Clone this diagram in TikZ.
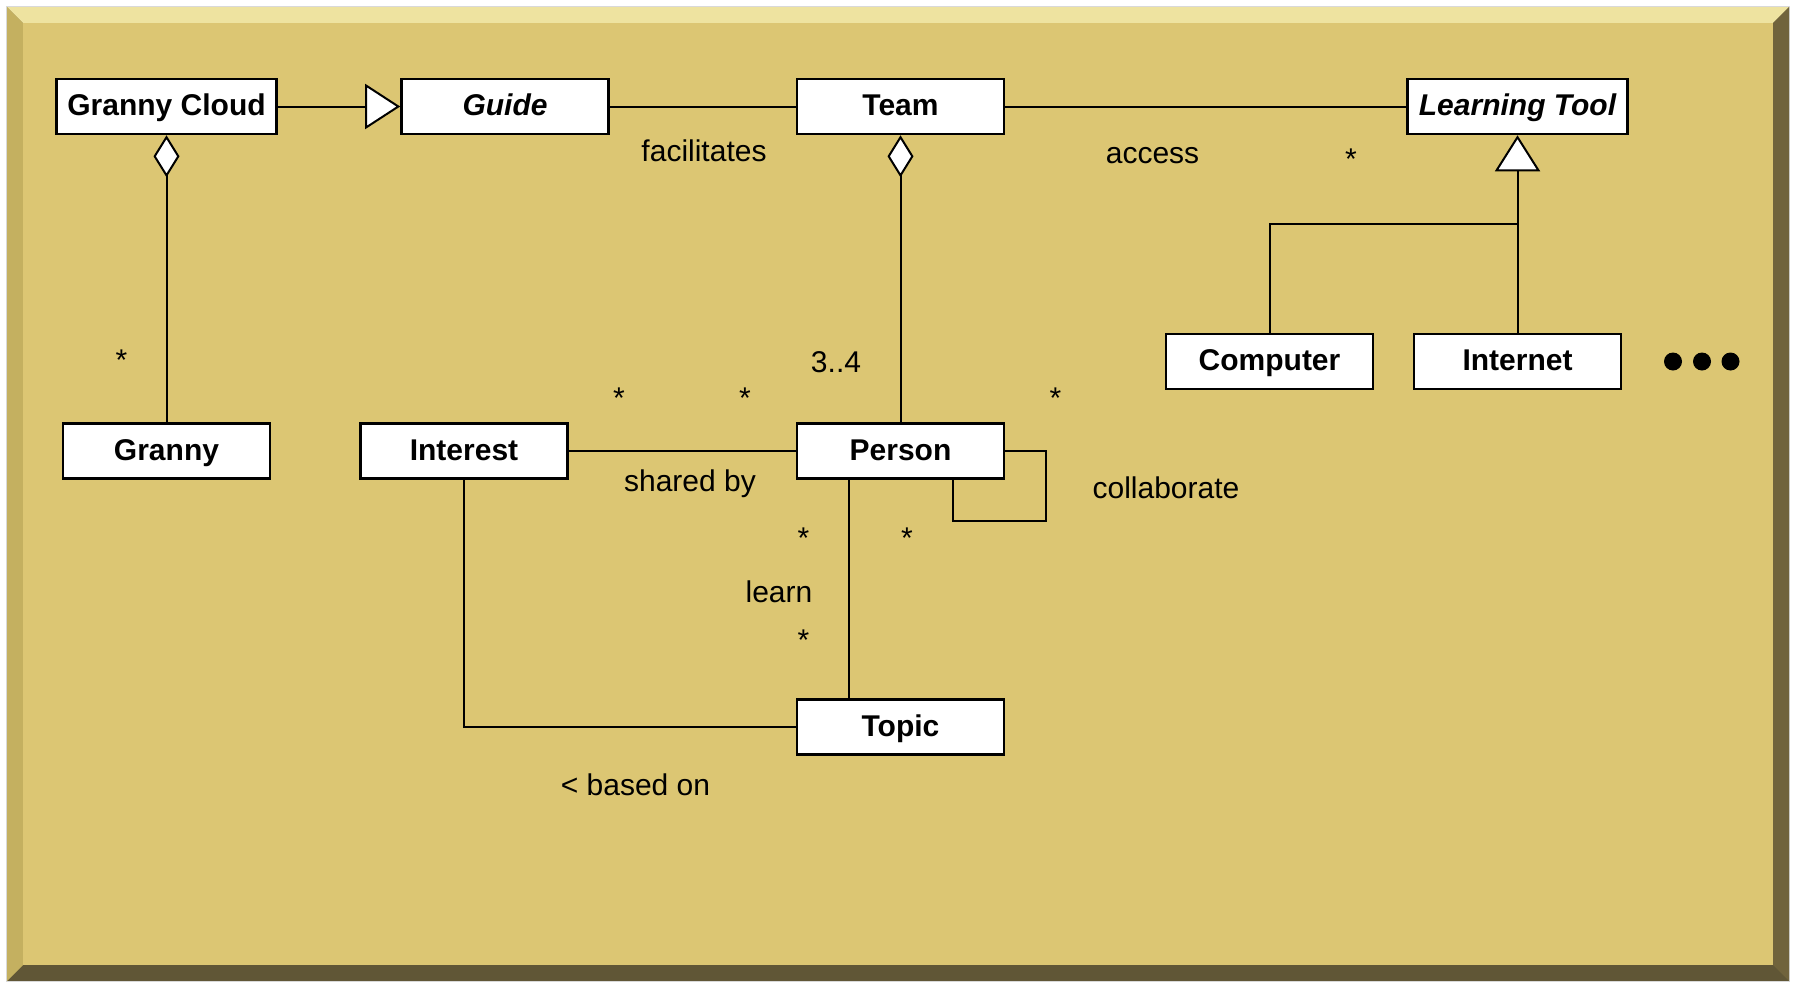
\documentclass[tikz,border=0pt]{standalone}
\usepackage{fontspec}
\setmainfont{Liberation Sans}
\usetikzlibrary{arrows.meta}
\definecolor{panel}{RGB}{220,198,115}
\definecolor{bevellight}{RGB}{238,227,160}
\definecolor{bevelleft}{RGB}{196,176,96}
\definecolor{bevelright}{RGB}{112,99,60}
\definecolor{bevelbottom}{RGB}{96,86,54}
\begin{document}
\begin{tikzpicture}[x=1pt, y=-1pt,
classnode/.style={rectangle, draw=black, fill=white, line width=2.6pt, minimum width=207pt, minimum height=55pt, inner sep=4pt, text height=24pt, text depth=6pt, font=\fontsize{30}{36}\selectfont\bfseries},
labelnode/.style={inner sep=0pt, text height=22pt, text depth=6pt, font=\fontsize{30}{36}\selectfont},
assoc/.style={line width=2pt},
]
\useasboundingbox (0,0) rectangle (1795,983);
%Frame
\fill[gray!30] (6,6) rectangle (1790,982);
\fill[bevelbottom] (7,7) rectangle (1789,981);
\fill[bevellight] (7,7) -- (1789,7) -- (1773,23) -- (23,23) -- cycle;
\fill[bevelleft] (7,7) -- (23,23) -- (23,965) -- (7,981) -- cycle;
\fill[bevelright] (1789,7) -- (1789,981) -- (1773,965) -- (1773,23) -- cycle;
\fill[panel] (23,23) rectangle (1773,965);

%Nodes
\node[classnode, minimum width=220pt] (gcloud)   at (166.5,106.5) {Granny Cloud};
\node[classnode]                      (guide)    at (505,106.5)   {\itshape Guide};
\node[classnode]                      (team)     at (900.5,106.5) {Team};
\node[classnode, minimum width=220pt] (ltool)    at (1517.5,106.5) {\itshape Learning Tool};
\node[classnode]                      (computer) at (1269.5,361.5) {Computer};
\node[classnode]                      (internet) at (1517.5,361.5) {Internet};
\node[classnode]                      (granny)   at (166.5,451)   {Granny};
\node[classnode]                      (interest) at (464,451)     {Interest};
\node[classnode]                      (person)   at (900.5,451)   {Person};
\node[classnode]                      (topic)    at (900.5,727)   {Topic};
\coordinate (lt-join) at (1517.5,224);

%Labels
\node[labelnode] (facil)   at (704,153)   {facilitates};
\node[labelnode] (access)  at (1152.5,155) {access};
\node[labelnode] (shared)  at (690,483)   {shared by};
\node[labelnode] (collab)  at (1166,490)  {collaborate};
\node[labelnode] (learn)   at (779,594)   {learn};
\node[labelnode] (based)   at (635.5,787) {< based on};
\node[labelnode] (team-m)  at (836,364)   {3..4};
\node[labelnode] (lt-m)    at (1351,161)  {*};
\node[labelnode] (gc-m)    at (121.5,362) {*};
\node[labelnode] (int-m)   at (619,400)   {*};
\node[labelnode] (pint-m)  at (745,400)   {*};
\node[labelnode] (pcol-m)  at (1055.5,400) {*};
\node[labelnode] (pcolb-m) at (907,540)   {*};
\node[labelnode] (plrn-m)  at (803.5,540) {*};
\node[labelnode] (tlrn-m)  at (803.5,642) {*};

%Lines
\draw[assoc, -{Triangle[length=35pt, width=45pt, fill=white]}] (gcloud) -- (guide);
\draw[assoc] (guide) -- (team);
\draw[assoc] (team) -- (ltool);
\draw[assoc, {Diamond[length=42pt, width=26pt, fill=white]}-] (gcloud) -- (granny);
\draw[assoc, {Diamond[length=42pt, width=26pt, fill=white]}-] (team) -- (person);
\draw[assoc, {Triangle[length=36pt, width=45pt, fill=white]}-] (ltool) -- (internet);
\draw[assoc] (computer) |- (lt-join);
\draw[assoc] (interest) -- (person);
\draw[assoc] (interest) |- (topic);
\draw[assoc] ([xshift=-52pt]person.south) -- ([xshift=-52pt]topic.north);
\draw[assoc] (person.east) -- ++(41,0) |- ([xshift=52pt, yshift=-41pt]person.south) -- ([xshift=52pt]person.south);
\foreach \dx in {1673,1702,1730.5}
  \fill (\dx,361.5) circle (9);
\end{tikzpicture}
\end{document}
